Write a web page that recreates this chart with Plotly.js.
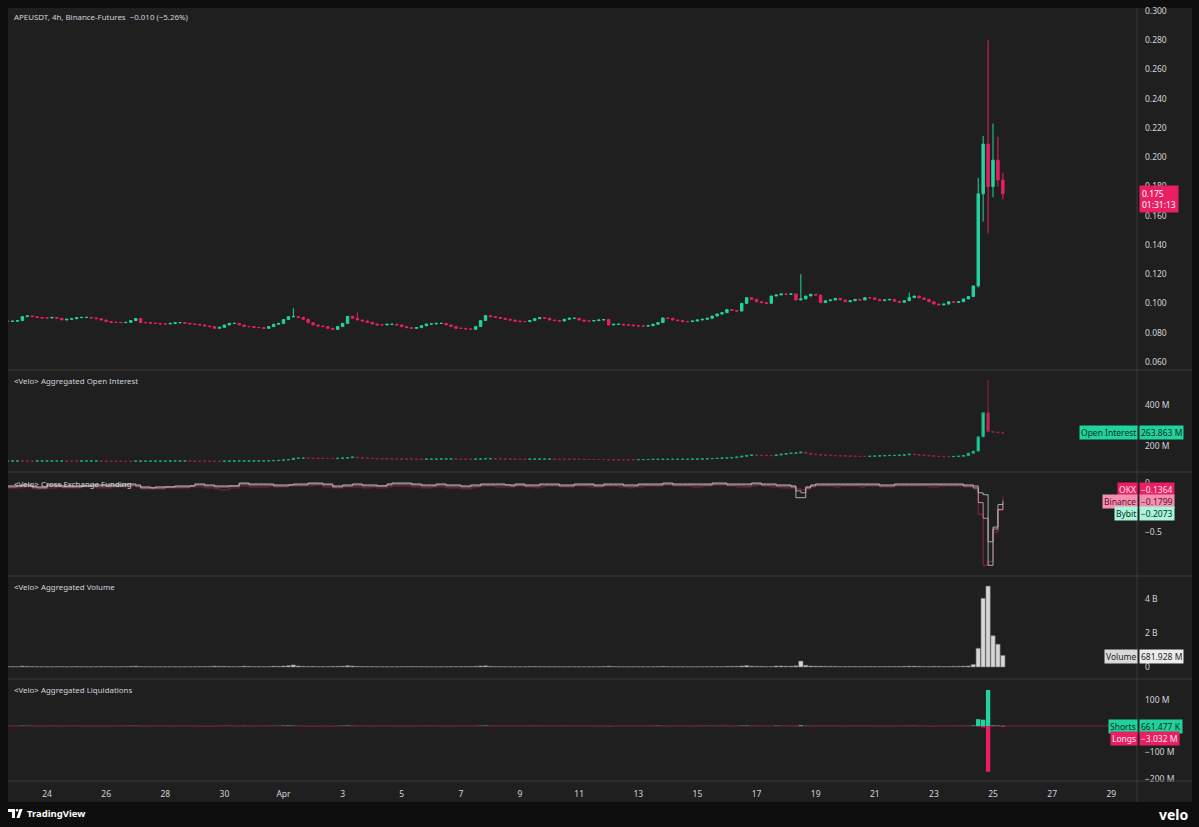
<!DOCTYPE html>
<html><head><meta charset="utf-8">
<script src="https://cdn.plot.ly/plotly-3.0.1.min.js"></script>
<style>html,body{margin:0;padding:0;background:#0e0e0e;}#chart{width:1199px;height:827px;}</style>
</head><body><div id="chart"></div>
<script>
// ---------- DATA (4h candles, first at 2025-03-22 16:00 UTC) ----------
const firstOpen = 0.0880;
const priceClose = [
.0878,.0879,.0883,.0910,.0915,.0910,.0905,.0901,.0901,.0905,
.0899,.0887,.0892,.0896,.0903,.0905,.0905,.0901,.0896,.0887,
.0876,.0871,.0871,.0869,.0871,.0883,.0897,.0869,.0869,.0866,
.0864,.0860,.0860,.0864,.0869,.0869,.0864,.0860,.0858,.0853,
.0846,.0842,.0830,.0837,.0853,.0864,.0864,.0853,.0842,.0842,
.0837,.0835,.0830,.0842,.0858,.0864,.0890,.0910,.0910,.0905,
.0892,.0869,.0853,.0846,.0842,.0830,.0823,.0842,.0864,.0912,
.0899,.0887,.0880,.0871,.0860,.0853,.0853,.0858,.0858,.0853,
.0842,.0835,.0830,.0835,.0848,.0860,.0860,.0864,.0864,.0853,
.0842,.0830,.0830,.0826,.0823,.0842,.0883,.0917,.0910,.0905,
.0899,.0892,.0887,.0880,.0876,.0876,.0883,.0896,.0903,.0899,
.0887,.0883,.0880,.0892,.0899,.0899,.0887,.0880,.0880,.0883,
.0887,.0890,.0853,.0858,.0858,.0853,.0853,.0848,.0846,.0846,
.0848,.0858,.0869,.0901,.0899,.0887,.0883,.0876,.0876,.0880,
.0887,.0892,.0899,.0914,.0928,.0937,.0958,.0952,.0948,.1001,
.1040,.1028,.1012,.1006,.1001,.1051,.1058,.1065,.1063,.1065,
.1024,.1031,.1051,.1063,.1058,.1006,.1019,.1024,.1035,.1024,
.1012,.1019,.1028,.1024,.1040,.1038,.1028,.1019,.1024,.1028,
.1015,.1008,.1019,.1040,.1051,.1038,.1028,.1012,.0996,.0990,
.0996,.1012,.1008,.1012,.1031,.1047,.1120,.175,.209,.180,
.198,.1844,.175];
// candles with visible wicks: candle index, high, low
const wickIndex = [58, 71, 161, 183, 197, 198, 199, 200, 201, 202];
const wickHigh  = [.0967,.0940,.1202,.1074,.186,.2145,.280,.223,.214,.1894];
const wickLow   = [null,null,null,null,.111,.156,.148,.1726,.180,.1712];

// Aggregated open interest (M USD)
const oiFirstOpen = 127;
const oiClose = [
127,127,127,126,126,126,127,127,127,127,
127,127,126,126,126,127,127,127,127,126,
126,126,126,125,125,125,126,126,126,126,
126,126,126,127,127,127,127,126,126,126,
126,126,125,125,126,126,127,127,127,127,
127,127,128,128,129,130,132,134,140,141,
141,140,140,140,139,139,139,140,141,143,
146,143,141,140,139,138,138,137,137,137,
136,136,136,135,135,136,136,136,137,137,
137,136,135,135,135,136,137,138,138,137,
137,136,136,135,135,135,136,136,136,136,
136,135,135,135,135,135,135,134,134,134,
134,134,133,133,133,133,133,133,134,134,
134,135,135,135,135,135,135,135,135,136,
136,137,138,139,140,141,142,143,146,150,
154,156,155,154,154,153,156,160,163,165,
166,170,165,160,158,156,155,154,153,152,
151,150,150,149,149,150,151,152,153,154,
154,155,157,160,158,156,154,152,150,149,
148,148,149,150,153,165,175,245,362,270,
268,265,263.863];
const oiWickIndex = [199];
const oiWickHigh = [522];

// Cross exchange funding
const fundOKX = [
-.05,-.05,-.05,-.04,-.04,-.06,-.06,-.06,-.05,-.05,
-.04,-.05,-.05,-.05,-.05,-.04,-.04,-.04,-.05,-.05,
-.05,-.04,-.04,-.04,-.04,-.03,-.04,-.06,-.06,-.06,
-.06,-.06,-.05,-.05,-.05,-.05,-.05,-.04,-.04,-.04,
-.05,-.05,-.06,-.07,-.07,-.05,-.05,-.03,-.03,-.04,
-.04,-.04,-.04,-.03,-.04,-.04,-.04,-.03,-.03,-.03,
-.03,-.03,-.02,-.02,-.04,-.04,-.05,-.05,-.04,-.04,
-.04,-.04,-.05,-.05,-.04,-.05,-.05,-.04,-.03,-.03,
-.03,-.03,-.04,-.04,-.05,-.05,-.04,-.04,-.04,-.05,
-.05,-.05,-.06,-.06,-.05,-.04,-.03,-.03,-.03,-.04,
-.04,-.04,-.04,-.03,-.03,-.04,-.04,-.05,-.04,-.03,
-.03,-.03,-.04,-.04,-.04,-.03,-.03,-.03,-.04,-.04,
-.04,-.03,-.03,-.03,-.04,-.04,-.05,-.04,-.04,-.03,
-.03,-.03,-.03,-.02,-.02,-.03,-.03,-.03,-.03,-.04,
-.04,-.03,-.03,-.02,-.02,-.02,-.03,-.03,-.04,-.04,
-.04,-.03,-.02,-.03,-.03,-.04,-.04,-.05,-.05,-.05,
-.06,-.07,-.06,-.04,-.03,-.03,-.03,-.03,-.04,-.03,
-.03,-.03,-.03,-.04,-.03,-.03,-.03,-.04,-.04,-.04,
-.03,-.03,-.03,-.03,-.03,-.03,-.03,-.04,-.04,-.03,
-.03,-.03,-.03,-.03,-.04,-.04,-.06,-.32,-.84,-.80,
-.50,-.28,-.1364];
const fundBinance = [
-.04,-.04,-.03,-.03,-.03,-.04,-.05,-.05,-.03,-.03,
-.03,-.04,-.04,-.04,-.04,-.03,-.03,-.03,-.03,-.03,
-.03,-.03,-.03,-.03,-.02,-.02,-.03,-.05,-.05,-.05,
-.05,-.05,-.04,-.04,-.04,-.04,-.04,-.03,-.02,-.02,
-.03,-.03,-.04,-.04,-.04,-.03,-.03,-.01,-.01,-.02,
-.02,-.02,-.02,-.02,-.03,-.03,-.03,-.02,-.02,-.02,
-.02,-.01,-.01,-.01,-.02,-.02,-.04,-.04,-.03,-.03,
-.02,-.02,-.03,-.03,-.03,-.03,-.03,-.02,-.01,-.01,
-.01,-.01,-.02,-.02,-.03,-.03,-.03,-.02,-.02,-.03,
-.03,-.03,-.04,-.04,-.03,-.03,-.02,-.02,-.02,-.02,
-.02,-.02,-.03,-.02,-.02,-.03,-.03,-.03,-.02,-.02,
-.02,-.02,-.03,-.03,-.03,-.02,-.02,-.02,-.02,-.03,
-.03,-.02,-.02,-.02,-.02,-.03,-.03,-.03,-.02,-.02,
-.02,-.02,-.02,-.01,-.01,-.02,-.02,-.02,-.02,-.02,
-.02,-.02,-.02,-.01,-.01,-.01,-.02,-.02,-.02,-.02,
-.02,-.01,-.01,-.02,-.02,-.02,-.03,-.03,-.03,-.04,
-.08,-.10,-.05,-.03,-.02,-.02,-.02,-.02,-.02,-.02,
-.02,-.02,-.02,-.02,-.02,-.02,-.02,-.03,-.03,-.03,
-.02,-.02,-.02,-.02,-.02,-.02,-.02,-.02,-.02,-.02,
-.02,-.02,-.02,-.02,-.03,-.03,-.05,-.20,-.36,-.60,
-.47,-.27,-.1799];
const fundBybit = [
-.03,-.03,-.03,-.02,-.02,-.04,-.04,-.04,-.02,-.02,
-.02,-.03,-.03,-.03,-.03,-.03,-.03,-.02,-.02,-.02,
-.02,-.02,-.02,-.02,-.01,-.01,-.02,-.04,-.04,-.05,
-.04,-.04,-.04,-.04,-.03,-.03,-.03,-.03,-.01,-.01,
-.02,-.02,-.03,-.03,-.03,-.03,-.03,.00,.00,-.01,
-.01,-.01,-.01,-.01,-.02,-.02,-.02,-.02,-.01,-.01,
-.01,.00,.00,.00,-.01,-.01,-.03,-.03,-.02,-.02,
-.01,-.01,-.02,-.02,-.02,-.03,-.03,-.01,.00,.00,
.00,.00,-.01,-.01,-.02,-.02,-.02,-.01,-.01,-.02,
-.02,-.02,-.03,-.03,-.02,-.02,-.01,-.01,-.01,-.01,
-.01,-.02,-.02,-.01,-.01,-.02,-.02,-.02,-.01,-.01,
-.01,-.01,-.02,-.02,-.02,-.01,-.01,-.01,-.01,-.02,
-.02,-.01,-.01,-.01,-.01,-.02,-.02,-.02,-.01,-.01,
-.01,-.01,-.01,.00,.00,-.01,-.01,-.01,-.01,-.01,
-.01,-.01,-.01,.00,.00,.00,-.01,-.01,-.01,-.01,
-.01,.00,.00,-.01,-.01,-.01,-.02,-.02,-.02,-.03,
-.15,-.15,-.04,-.02,-.01,-.01,-.01,-.01,-.01,-.01,
-.01,-.01,-.01,-.01,-.01,-.01,-.01,-.02,-.02,-.02,
-.01,-.01,-.01,-.01,-.01,-.01,-.01,-.01,-.01,-.01,
-.01,-.01,-.01,-.01,-.02,-.02,-.03,-.10,-.12,-.84,
-.45,-.22,-.2073];

// Aggregated volume (billions)
const volume = [
.03,.03,.02,.05,.04,.03,.02,.02,.02,.02,
.02,.03,.02,.02,.03,.02,.02,.02,.02,.03,
.03,.02,.02,.02,.03,.04,.05,.03,.02,.02,
.02,.02,.02,.02,.02,.02,.02,.02,.02,.03,
.03,.03,.05,.04,.04,.03,.02,.03,.05,.04,
.03,.03,.02,.03,.05,.04,.06,.08,.12,.06,
.04,.03,.04,.03,.03,.03,.04,.04,.05,.08,
.06,.04,.03,.03,.03,.02,.02,.02,.02,.02,
.02,.03,.03,.03,.03,.02,.02,.02,.02,.02,
.03,.03,.03,.03,.03,.04,.06,.07,.04,.03,
.03,.02,.02,.02,.02,.02,.03,.03,.02,.02,
.02,.02,.02,.02,.02,.02,.02,.02,.02,.02,
.02,.03,.05,.03,.02,.02,.02,.02,.02,.02,
.02,.02,.03,.04,.03,.02,.02,.02,.02,.02,
.02,.02,.02,.03,.03,.03,.04,.04,.04,.06,
.09,.05,.04,.04,.03,.03,.06,.06,.05,.05,
.07,.35,.10,.06,.05,.05,.04,.04,.04,.03,
.03,.03,.03,.03,.03,.03,.03,.03,.03,.03,
.03,.03,.04,.05,.05,.04,.03,.03,.04,.04,
.03,.03,.04,.04,.05,.06,.15,1.10,4.04,4.76,
1.84,1.34,.68];

// Aggregated liquidations (M USD)
const liqShorts = [
.3,.2,.2,1.0,.6,.3,.2,.2,.2,.3,
.2,.2,.1,.2,.3,.2,.2,.2,.1,.2,
.2,.1,.1,.2,.3,.5,.8,.2,.1,.2,
.1,.1,.1,.2,.2,.2,.1,.1,.1,.1,
.1,.1,.1,.3,.6,.5,.2,.2,.3,.2,
.1,.1,.1,.3,.6,.4,1.2,1.8,1.0,.3,
.2,.1,.1,.1,.1,.1,.2,.4,1.0,1.5,
.5,.2,.1,.1,.1,.1,.1,.1,.1,.2,
.2,.2,.1,.1,.3,.4,.2,.2,.2,.1,
.1,.1,.1,.1,.1,.3,1.0,1.5,.4,.2,
.1,.1,.1,.1,.1,.2,.3,.4,.3,.1,
.1,.1,.3,.3,.2,.1,.1,.1,.1,.2,
.2,.2,.1,.1,.1,.1,.1,.1,.1,.2,
.3,.4,1.0,.4,.2,.1,.1,.1,.2,.2,
.3,.3,.5,.6,.4,.6,.3,.2,.3,1.2,
1.5,.4,.2,.2,.1,.1,1.2,.5,.4,.3,
.2,3.0,.5,.4,.3,.2,.3,.3,.4,.2,
.2,.3,.3,.2,.5,.2,.2,.2,.2,.2,
.1,.1,.3,.5,.6,.2,.1,.1,.1,.1,
.1,.2,.3,.3,.4,.5,2.0,26,24,137,
2.0,1.5,.661];
const liqLongs = [
-.2,-.3,-.2,-.1,-.1,-.3,-.3,-.3,-.2,-.2,
-.3,-.4,-.2,-.1,-.1,-.2,-.2,-.3,-.4,-.5,
-.4,-.3,-.3,-.2,-.2,-.1,-.1,-.6,-.4,-.3,
-.3,-.3,-.2,-.2,-.2,-.2,-.3,-.3,-.5,-.6,
-.6,-.7,-1.0,-.3,-.1,-.1,-.2,-.5,-.6,-.4,
-.4,-.3,-.4,-.2,-.1,-.1,-.1,-.1,-.2,-.3,
-.4,-.8,-.9,-.5,-.4,-.6,-.9,-.2,-.1,-.1,
-.4,-.4,-.3,-.4,-.5,-.3,-.2,-.2,-.2,-.3,
-.4,-.4,-.4,-.2,-.1,-.1,-.1,-.2,-.4,-.4,
-.5,-.6,-.3,-.3,-.4,-.1,-.1,-.1,-.3,-.3,
-.3,-.3,-.4,-.3,-.2,-.1,-.1,-.1,-.2,-.3,
-.3,-.2,-.1,-.1,-.2,-.3,-.3,-.2,-.2,-.2,
-.2,-.2,-1.2,-.3,-.2,-.2,-.3,-.3,-.2,-.1,
-.1,-.1,-.1,-.2,-.3,-.3,-.3,-.2,-.2,-.2,
-.1,-.1,-.1,-.1,-.1,-.1,-.3,-.3,-.4,-.1,
-.1,-.3,-.3,-.2,-.2,-.1,-.1,-.1,-.1,-.2,
-.8,-1.0,-.3,-.2,-.8,-.6,-.3,-.2,-.2,-.3,
-.3,-.2,-.2,-.3,-.2,-.2,-.2,-.3,-.3,-.4,
-.3,-.2,-.2,-.1,-.1,-.3,-.3,-.5,-.7,-.4,
-.3,-.2,-.2,-.1,-.1,-.1,-.2,-1.5,-5,-174,
-1.0,-.8,-3.032];

const tickDates = ['2025-03-24','2025-03-26','2025-03-28','2025-03-30','2025-04-01','2025-04-03','2025-04-05','2025-04-07','2025-04-09','2025-04-11','2025-04-13','2025-04-15','2025-04-17','2025-04-19','2025-04-21','2025-04-23','2025-04-25','2025-04-27','2025-04-29'];
const tickLabels = ['24','26','28','30','Apr','3','5','7','9','11','13','15','17','19','21','23','25','27','29'];

// ---------- BUILD ----------
const startMs = Date.UTC(2025, 2, 22, 16, 0);
const iso = ms => new Date(ms).toISOString().slice(0,16).replace('T',' ');
const times = priceClose.map((_, i) => iso(startMs + i * 4 * 3600e3));

function ohlc(first, closes, wIdx, wHi, wLo) {
  const o = [], h = [], l = [];
  closes.forEach((c, i) => {
    const op = i === 0 ? first : closes[i-1];
    o.push(op);
    let hi = Math.max(op, c), lo = Math.min(op, c);
    const k = wIdx.indexOf(i);
    if (k >= 0) { if (wHi[k] != null) hi = wHi[k]; if (wLo && wLo[k] != null) lo = wLo[k]; }
    h.push(hi); l.push(lo);
  });
  return {o, h, l};
}
const P = ohlc(firstOpen, priceClose, wickIndex, wickHigh, wickLow);
const O = ohlc(oiFirstOpen, oiClose, oiWickIndex, oiWickHigh, null);

const G = '#22d39f', R = '#e91e63';
const FONT = 'Noto Sans, DejaVu Sans, sans-serif';
const TXT = '#d1d4dc';
const px2x = x => (x - 8) / 1129;
const px2y = y => (781 - y) / 773;

const traces = [
  {type:'candlestick', x:times, open:P.o, high:P.h, low:P.l, close:priceClose, xaxis:'x', yaxis:'y',
   increasing:{line:{color:G,width:1}, fillcolor:G}, decreasing:{line:{color:R,width:1}, fillcolor:R},
   whiskerwidth:0, hoverinfo:'skip', showlegend:false},
  {type:'candlestick', x:times, open:O.o, high:O.h, low:O.l, close:oiClose, xaxis:'x', yaxis:'y2',
   increasing:{line:{color:'#1aa57c',width:1}, fillcolor:G}, decreasing:{line:{color:'#8e2446',width:1}, fillcolor:R},
   whiskerwidth:0, hoverinfo:'skip', showlegend:false},
  {type:'scatter', mode:'lines', x:times, y:fundOKX, xaxis:'x', yaxis:'y3', line:{shape:'hv', color:'#8a2744', width:1}, hoverinfo:'skip', showlegend:false},
  {type:'scatter', mode:'lines', x:times, y:fundBinance, xaxis:'x', yaxis:'y3', line:{shape:'hv', color:'#c08a9a', width:1}, hoverinfo:'skip', showlegend:false},
  {type:'scatter', mode:'lines', x:times, y:fundBybit, xaxis:'x', yaxis:'y3', line:{shape:'hv', color:'#b4bfbc', width:0.9}, hoverinfo:'skip', showlegend:false},
  {type:'bar', x:times, y:volume, xaxis:'x', yaxis:'y4', marker:{color:'#d6d6d6', line:{color:'#6e6e6e', width:0.6}}, hoverinfo:'skip', showlegend:false},
  {type:'bar', x:times, y:liqShorts, xaxis:'x', yaxis:'y5', marker:{color:G, line:{width:0}}, hoverinfo:'skip', showlegend:false},
  {type:'bar', x:times, y:liqLongs, xaxis:'x', yaxis:'y5', marker:{color:R, line:{width:0}}, hoverinfo:'skip', showlegend:false}
];

const yBase = {side:'right', anchor:'x', showgrid:false, zeroline:false, showline:false, ticks:'', ticklabelstandoff:7,
  tickfont:{family:FONT, size:8.5, color:TXT}, fixedrange:true};
const priceTicks = [0.06,0.08,0.10,0.12,0.14,0.16,0.18,0.20,0.22,0.24,0.26,0.28,0.30];

const layout = {
  width:1199, height:827, margin:{l:8, r:62, t:8, b:46},
  paper_bgcolor:'#0e0e0e', plot_bgcolor:'rgba(0,0,0,0)',
  barmode:'relative', bargap:0.12, showlegend:false,
  font:{family:FONT, color:TXT, size:8.5},
  xaxis:{type:'date', anchor:'y5', domain:[0,1], range:['2025-03-22 16:20','2025-04-29 20:54'],
    tickvals:tickDates, ticktext:tickLabels, ticks:'', ticklabelstandoff:6,
    tickfont:{family:FONT, size:8.5, color:TXT}, showgrid:false, zeroline:false, showline:false,
    rangeslider:{visible:false}, fixedrange:true},
  yaxis: Object.assign({}, yBase, {domain:[0.53299,1], range:[0.0552,0.30205], tickvals:priceTicks, tickformat:'.3f'}),
  yaxis2:Object.assign({}, yBase, {domain:[0.40104,0.53040], range:[78,565.9], tickvals:[200,400], ticktext:['200 M','400 M']}),
  yaxis3:Object.assign({}, yBase, {domain:[0.26649,0.39845], range:[-0.939,0.102], tickvals:[0,-0.5], ticktext:['0','\u22120.5']}),
  yaxis4:Object.assign({}, yBase, {domain:[0.13325,0.26391], range:[-0.647,5.294], tickvals:[0,2,4], ticktext:['0','2 B','4 B']}),
  yaxis5:Object.assign({}, yBase, {domain:[0,0.13066], range:[-209.1,174.9], tickvals:[100,-100,-200], ticktext:['100 M','\u2212100 M','\u2212200 M']}),
  shapes:[], annotations:[]
};

// panel background
layout.shapes.push({type:'rect', xref:'paper', yref:'paper', x0:px2x(8), x1:px2x(1192), y0:px2y(802), y1:px2y(8), fillcolor:'#1f1f1f', line:{width:0}, layer:'below'});
// pane separators
[370,472,576,679,781].forEach(y => layout.shapes.push({type:'line', xref:'paper', yref:'paper', x0:px2x(8), x1:px2x(1192), y0:px2y(y), y1:px2y(y), line:{color:'#3a3a3a', width:1}}));
layout.shapes.push({type:'line', xref:'paper', yref:'paper', x0:1, x1:1, y0:px2y(802), y1:px2y(8), line:{color:'#3a3a3a', width:1}});
// liquidation zero line
layout.shapes.push({type:'line', xref:'paper', yref:'y5', x0:0, x1:1, y0:0, y1:0, line:{color:'#7d2242', width:1}, layer:'below'});
// TradingView logo
const pth = pts => 'M' + pts.map(p => px2x(p[0]) + ',' + px2y(p[1])).join(' L') + ' Z';
layout.shapes.push({type:'path', xref:'paper', yref:'paper', path:pth([[8,809],[15,809],[15,818],[12,818],[12,812],[8,812]]), fillcolor:'#ffffff', line:{width:0}});
layout.shapes.push({type:'circle', xref:'paper', yref:'paper', x0:px2x(15.8), x1:px2x(18.3), y0:px2y(811.5), y1:px2y(809), fillcolor:'#ffffff', line:{width:0}});
layout.shapes.push({type:'path', xref:'paper', yref:'paper', path:pth([[16.5,818],[19.6,809],[22.6,809],[19.5,818]]), fillcolor:'#ffffff', line:{width:0}});

const ann = (text, x, y, opts) => layout.annotations.push(Object.assign({xref:'paper', yref:'paper', x:px2x(x), y:px2y(y), text, showarrow:false, xanchor:'left', yanchor:'middle', font:{family:FONT, size:8.5, color:TXT}}, opts || {}));
const small = {font:{family:FONT, size:7.9, color:TXT}};
ann('APEUSDT, 4h, Binance-Futures&nbsp;&nbsp;\u22120.010 (\u22125.26%)', 12, 17, small);
ann('&lt;Velo&gt; Aggregated Open Interest', 12, 381, small);
ann('&lt;Velo&gt; Cross Exchange Funding', 12, 484, small);
ann('&lt;Velo&gt; Aggregated Volume', 12, 587, small);
ann('&lt;Velo&gt; Aggregated Liquidations', 12, 690, small);
ann('<b>TradingView</b>', 25, 814, {font:{family:FONT, size:9.5, color:'#ffffff'}});
ann('<b>velo</b>', 1191, 815, {xanchor:'right', font:{family:FONT, size:14, color:'#ffffff'}});

const tag = (name, value, y, bg, fg, bg2) => {
  if (name) ann(name, 1138, y, {xanchor:'right', bgcolor:bg, borderpad:1, font:{family:FONT, size:8.5, color:fg}});
  ann(value, 1139, y, {bgcolor:bg2 || bg, borderpad:1, font:{family:FONT, size:8.5, color:fg}});
};
ann('0.175&nbsp;&nbsp;&nbsp;&nbsp;<br>01:31:13', 1139, 199, {bgcolor:R, borderpad:2, align:'left', font:{family:FONT, size:8.5, color:'#ffffff'}});
tag('Open Interest', '263.863 M', 432, '#1fd49c', '#0c2a1f');
tag('OKX', '\u22120.1364', 489, R, '#ffe4ec');
tag('Binance', '\u22120.1799', 501, '#f48fb1', '#5a1430');
tag('Bybit', '\u22120.2073', 513, '#a9f5da', '#0f2e24');
tag('Volume', '681.928 M', 656, '#d9d9d9', '#1e1e1e', '#ececec');
tag('Shorts', '661.477 K', 726, '#1fd49c', '#0c2a1f');
tag('Longs', '\u22123.032 M', 738, R, '#ffe4ec');

Plotly.newPlot('chart', traces, layout, {displayModeBar:false, staticPlot:true});
</script></body></html>
